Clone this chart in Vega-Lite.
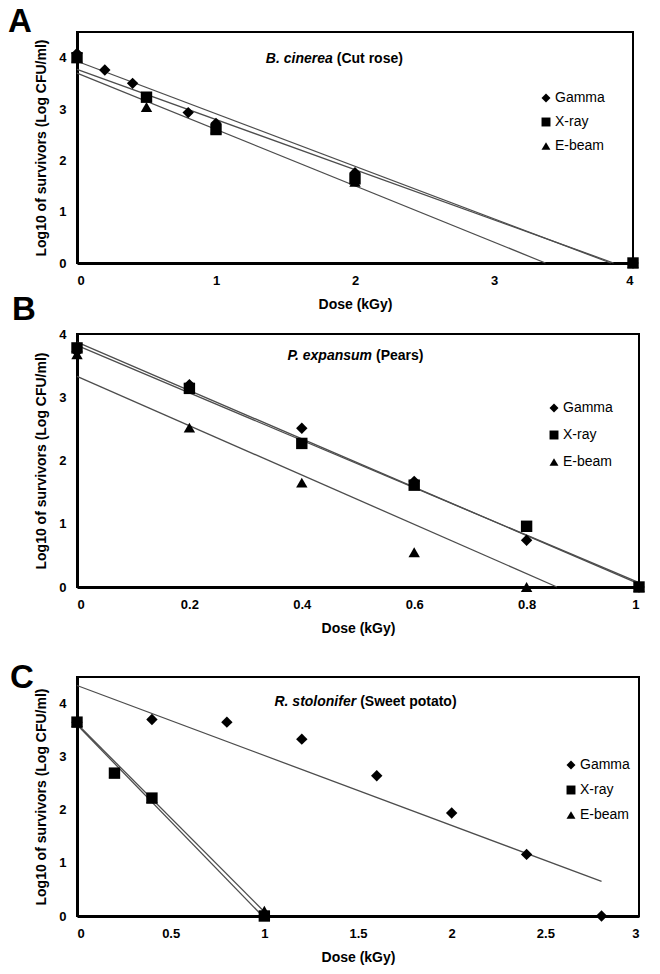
{
  "$schema": "https://vega.github.io/schema/vega-lite/v6.json",
  "background": "white",
  "padding": {"left": 7, "top": 5, "right": 5, "bottom": 5},
  "bounds": "flush",
  "spacing": 71,
  "resolve": {"scale": {"shape": "independent"}, "legend": {"shape": "independent"}},
  "config": {
    "font": "Liberation Sans",
    "view": {"stroke": "black", "strokeWidth": 2},
    "axis": {
      "grid": false, "ticks": false, "zindex": 0,
      "domainColor": "black", "domainWidth": 3,
      "labelFont": "Liberation Sans", "labelFontSize": 13, "labelFontWeight": "bold", "labelColor": "black", "labelPadding": 11,
      "titleFont": "Liberation Sans", "titleFontSize": 14, "titleFontWeight": "bold", "titleColor": "black"
    },
    "axisX": {"titlePadding": 10},
    "axisY": {"titlePadding": 10},
    "legend": {
      "orient": "none", "padding": 0, "labelFont": "Liberation Sans", "labelFontSize": 14, "labelColor": "black",
      "symbolFillColor": "black", "symbolStrokeColor": "black", "symbolStrokeWidth": 0, "symbolSize": 80, "labelOffset": 2
    },
    "title": {"font": "Liberation Sans", "fontSize": 33, "fontWeight": "bold", "color": "black", "anchor": "start", "frame": "group", "baseline": "alphabetic"}
  },
  "datasets": {
    "points": [
      {"panel": "A", "series": "E-beam", "dose": 0, "log": 4.0},
      {"panel": "A", "series": "E-beam", "dose": 0.5, "log": 3.04},
      {"panel": "A", "series": "E-beam", "dose": 1, "log": 2.62},
      {"panel": "A", "series": "E-beam", "dose": 2, "log": 1.58},
      {"panel": "A", "series": "E-beam", "dose": 4, "log": 0},
      {"panel": "A", "series": "Gamma", "dose": 0, "log": 4.08},
      {"panel": "A", "series": "Gamma", "dose": 0.2, "log": 3.76},
      {"panel": "A", "series": "Gamma", "dose": 0.4, "log": 3.5},
      {"panel": "A", "series": "Gamma", "dose": 0.8, "log": 2.93},
      {"panel": "A", "series": "Gamma", "dose": 1, "log": 2.72},
      {"panel": "A", "series": "Gamma", "dose": 2, "log": 1.76},
      {"panel": "A", "series": "Gamma", "dose": 4, "log": 0},
      {"panel": "A", "series": "X-ray", "dose": 0, "log": 4.0},
      {"panel": "A", "series": "X-ray", "dose": 0.5, "log": 3.23},
      {"panel": "A", "series": "X-ray", "dose": 1, "log": 2.6},
      {"panel": "A", "series": "X-ray", "dose": 2, "log": 1.64},
      {"panel": "A", "series": "X-ray", "dose": 4, "log": 0},
      {"panel": "B", "series": "E-beam", "dose": 0, "log": 3.68},
      {"panel": "B", "series": "E-beam", "dose": 0.2, "log": 2.52},
      {"panel": "B", "series": "E-beam", "dose": 0.4, "log": 1.65},
      {"panel": "B", "series": "E-beam", "dose": 0.6, "log": 0.55},
      {"panel": "B", "series": "E-beam", "dose": 0.8, "log": 0},
      {"panel": "B", "series": "E-beam", "dose": 1, "log": 0},
      {"panel": "B", "series": "Gamma", "dose": 0, "log": 3.72},
      {"panel": "B", "series": "Gamma", "dose": 0.2, "log": 3.2},
      {"panel": "B", "series": "Gamma", "dose": 0.4, "log": 2.51},
      {"panel": "B", "series": "Gamma", "dose": 0.6, "log": 1.67},
      {"panel": "B", "series": "Gamma", "dose": 0.8, "log": 0.74},
      {"panel": "B", "series": "Gamma", "dose": 1, "log": 0},
      {"panel": "B", "series": "X-ray", "dose": 0, "log": 3.78},
      {"panel": "B", "series": "X-ray", "dose": 0.2, "log": 3.14},
      {"panel": "B", "series": "X-ray", "dose": 0.4, "log": 2.27},
      {"panel": "B", "series": "X-ray", "dose": 0.6, "log": 1.61},
      {"panel": "B", "series": "X-ray", "dose": 0.8, "log": 0.96},
      {"panel": "B", "series": "X-ray", "dose": 1, "log": 0},
      {"panel": "C", "series": "E-beam", "dose": 0, "log": 3.65},
      {"panel": "C", "series": "E-beam", "dose": 0.2, "log": 2.69},
      {"panel": "C", "series": "E-beam", "dose": 0.4, "log": 2.22},
      {"panel": "C", "series": "E-beam", "dose": 1, "log": 0.1},
      {"panel": "C", "series": "Gamma", "dose": 0, "log": 3.65},
      {"panel": "C", "series": "Gamma", "dose": 0.4, "log": 3.7},
      {"panel": "C", "series": "Gamma", "dose": 0.8, "log": 3.65},
      {"panel": "C", "series": "Gamma", "dose": 1.2, "log": 3.33},
      {"panel": "C", "series": "Gamma", "dose": 1.6, "log": 2.64},
      {"panel": "C", "series": "Gamma", "dose": 2.0, "log": 1.94},
      {"panel": "C", "series": "Gamma", "dose": 2.4, "log": 1.16},
      {"panel": "C", "series": "Gamma", "dose": 2.8, "log": 0},
      {"panel": "C", "series": "X-ray", "dose": 0, "log": 3.65},
      {"panel": "C", "series": "X-ray", "dose": 0.2, "log": 2.69},
      {"panel": "C", "series": "X-ray", "dose": 0.4, "log": 2.22},
      {"panel": "C", "series": "X-ray", "dose": 1, "log": 0}
    ],
    "fits": [
      {"panel": "A", "series": "Gamma", "dose": 0, "log": 3.93},
      {"panel": "A", "series": "Gamma", "dose": 3.84, "log": 0},
      {"panel": "A", "series": "X-ray", "dose": 0, "log": 3.77},
      {"panel": "A", "series": "X-ray", "dose": 3.86, "log": 0},
      {"panel": "A", "series": "E-beam", "dose": 0, "log": 3.7},
      {"panel": "A", "series": "E-beam", "dose": 3.37, "log": 0},
      {"panel": "B", "series": "Gamma", "dose": 0, "log": 3.87},
      {"panel": "B", "series": "Gamma", "dose": 1, "log": 0.05},
      {"panel": "B", "series": "X-ray", "dose": 0, "log": 3.82},
      {"panel": "B", "series": "X-ray", "dose": 1, "log": 0.07},
      {"panel": "B", "series": "E-beam", "dose": 0, "log": 3.33},
      {"panel": "B", "series": "E-beam", "dose": 0.854, "log": 0},
      {"panel": "C", "series": "Gamma", "dose": 0, "log": 4.34},
      {"panel": "C", "series": "Gamma", "dose": 2.8, "log": 0.65},
      {"panel": "C", "series": "X-ray", "dose": 0, "log": 3.6},
      {"panel": "C", "series": "X-ray", "dose": 0.99, "log": 0},
      {"panel": "C", "series": "E-beam", "dose": 0, "log": 3.62},
      {"panel": "C", "series": "E-beam", "dose": 1, "log": 0.08}
    ]
  },
  "vconcat": [
    {
      "width": 556, "height": 231,
      "title": {"text": "A", "dx": -69, "offset": -1, "dy": 6},
      "layer": [
        {
          "data": {"name": "fits"},
          "transform": [{"filter": "datum.panel === 'A'"}],
          "mark": {"type": "line", "color": "#4d4d4d", "strokeWidth": 1.3},
          "encoding": {
            "x": {"field": "dose", "type": "quantitative", "scale": {"domain": [0, 4], "nice": false}, "axis": {"title": "Dose (kGy)", "values": [0, 1, 2, 3, 4], "format": "~g"}},
            "y": {"field": "log", "type": "quantitative", "scale": {"domain": [0, 4.5], "nice": false}, "axis": {"title": "Log10 of survivors (Log CFU/ml)", "values": [0, 1, 2, 3, 4], "format": "~g"}},
            "detail": {"field": "series"}
          }
        },
        {
          "data": {"name": "points"},
          "transform": [{"filter": "datum.panel === 'A'"}],
          "mark": {"type": "point", "filled": true, "color": "black", "opacity": 1, "size": 130, "strokeWidth": 0},
          "encoding": {
            "x": {"field": "dose", "type": "quantitative"},
            "y": {"field": "log", "type": "quantitative"},
            "shape": {"field": "series", "type": "nominal", "scale": {"domain": ["Gamma", "X-ray", "E-beam"], "range": ["diamond", "square", "triangle-up"]}, "legend": {"title": null, "legendX": 462, "legendY": 59, "rowPadding": 10}}
          }
        },
        {
          "data": {"values": [{}]},
          "mark": {"type": "text", "align": "right", "baseline": "middle", "fontStyle": "italic", "fontWeight": "bold", "fontSize": 14, "color": "black"},
          "encoding": {"x": {"datum": 1.84}, "y": {"datum": 3.98}, "text": {"value": "B. cinerea"}}
        },
        {
          "data": {"values": [{}]},
          "mark": {"type": "text", "align": "left", "baseline": "middle", "fontWeight": "bold", "fontSize": 14, "color": "black", "dx": 4},
          "encoding": {"x": {"datum": 1.84}, "y": {"datum": 3.98}, "text": {"value": "(Cut rose)"}}
        }
      ]
    },
    {
      "bounds": "flush",
      "spacing": 90,
      "resolve": {"scale": {"shape": "independent"}, "legend": {"shape": "independent"}},
      "vconcat": [
        {
          "width": 562, "height": 253,
          "title": {"text": "B", "dx": -65, "offset": 1},
          "layer": [
            {
              "data": {"name": "fits"},
              "transform": [{"filter": "datum.panel === 'B'"}],
              "mark": {"type": "line", "color": "#4d4d4d", "strokeWidth": 1.3},
              "encoding": {
                "x": {"field": "dose", "type": "quantitative", "scale": {"domain": [0, 1], "nice": false}, "axis": {"title": "Dose (kGy)", "values": [0, 0.2, 0.4, 0.6, 0.8, 1], "format": "~g"}},
                "y": {"field": "log", "type": "quantitative", "scale": {"domain": [0, 4], "nice": false}, "axis": {"title": "Log10 of survivors (Log CFU/ml)", "values": [0, 1, 2, 3, 4], "format": "~g"}},
                "detail": {"field": "series"}
              }
            },
            {
              "data": {"name": "points"},
              "transform": [{"filter": "datum.panel === 'B'"}],
              "mark": {"type": "point", "filled": true, "color": "black", "opacity": 1, "size": 130, "strokeWidth": 0},
              "encoding": {
                "x": {"field": "dose", "type": "quantitative"},
                "y": {"field": "log", "type": "quantitative"},
                "shape": {"field": "series", "type": "nominal", "scale": {"domain": ["Gamma", "X-ray", "E-beam"], "range": ["diamond", "square", "triangle-up"]}, "legend": {"title": null, "legendX": 470, "legendY": 67, "rowPadding": 13}}
              }
            },
            {
              "data": {"values": [{}]},
              "mark": {"type": "text", "align": "right", "baseline": "middle", "fontStyle": "italic", "fontWeight": "bold", "fontSize": 14, "color": "black"},
              "encoding": {"x": {"datum": 0.525}, "y": {"datum": 3.66}, "text": {"value": "P. expansum"}}
            },
            {
              "data": {"values": [{}]},
              "mark": {"type": "text", "align": "left", "baseline": "middle", "fontWeight": "bold", "fontSize": 14, "color": "black", "dx": 4},
              "encoding": {"x": {"datum": 0.525}, "y": {"datum": 3.66}, "text": {"value": "(Pears)"}}
            }
          ]
        },
        {
          "width": 562, "height": 239,
          "title": {"text": "C", "dx": -67, "offset": -11, "dy": 7},
          "layer": [
            {
              "data": {"name": "fits"},
              "transform": [{"filter": "datum.panel === 'C'"}],
              "mark": {"type": "line", "color": "#4d4d4d", "strokeWidth": 1.3},
              "encoding": {
                "x": {"field": "dose", "type": "quantitative", "scale": {"domain": [0, 3], "nice": false}, "axis": {"title": "Dose (kGy)", "values": [0, 0.5, 1, 1.5, 2, 2.5, 3], "format": "~g"}},
                "y": {"field": "log", "type": "quantitative", "scale": {"domain": [0, 4.5], "nice": false}, "axis": {"title": "Log10 of survivors (Log CFU/ml)", "values": [0, 1, 2, 3, 4], "format": "~g"}},
                "detail": {"field": "series"}
              }
            },
            {
              "data": {"name": "points"},
              "transform": [{"filter": "datum.panel === 'C'"}],
              "mark": {"type": "point", "filled": true, "color": "black", "opacity": 1, "size": 130, "strokeWidth": 0},
              "encoding": {
                "x": {"field": "dose", "type": "quantitative"},
                "y": {"field": "log", "type": "quantitative"},
                "shape": {"field": "series", "type": "nominal", "scale": {"domain": ["Gamma", "X-ray", "E-beam"], "range": ["diamond", "square", "triangle-up"]}, "legend": {"title": null, "legendX": 487, "legendY": 81, "rowPadding": 11}}
              }
            },
            {
              "data": {"values": [{}]},
              "mark": {"type": "text", "align": "right", "baseline": "middle", "fontStyle": "italic", "fontWeight": "bold", "fontSize": 14, "color": "black"},
              "encoding": {"x": {"datum": 1.49}, "y": {"datum": 4.02}, "text": {"value": "R. stolonifer"}}
            },
            {
              "data": {"values": [{}]},
              "mark": {"type": "text", "align": "left", "baseline": "middle", "fontWeight": "bold", "fontSize": 14, "color": "black", "dx": 4},
              "encoding": {"x": {"datum": 1.49}, "y": {"datum": 4.02}, "text": {"value": "(Sweet potato)"}}
            }
          ]
        }
      ]
    }
  ]
}
